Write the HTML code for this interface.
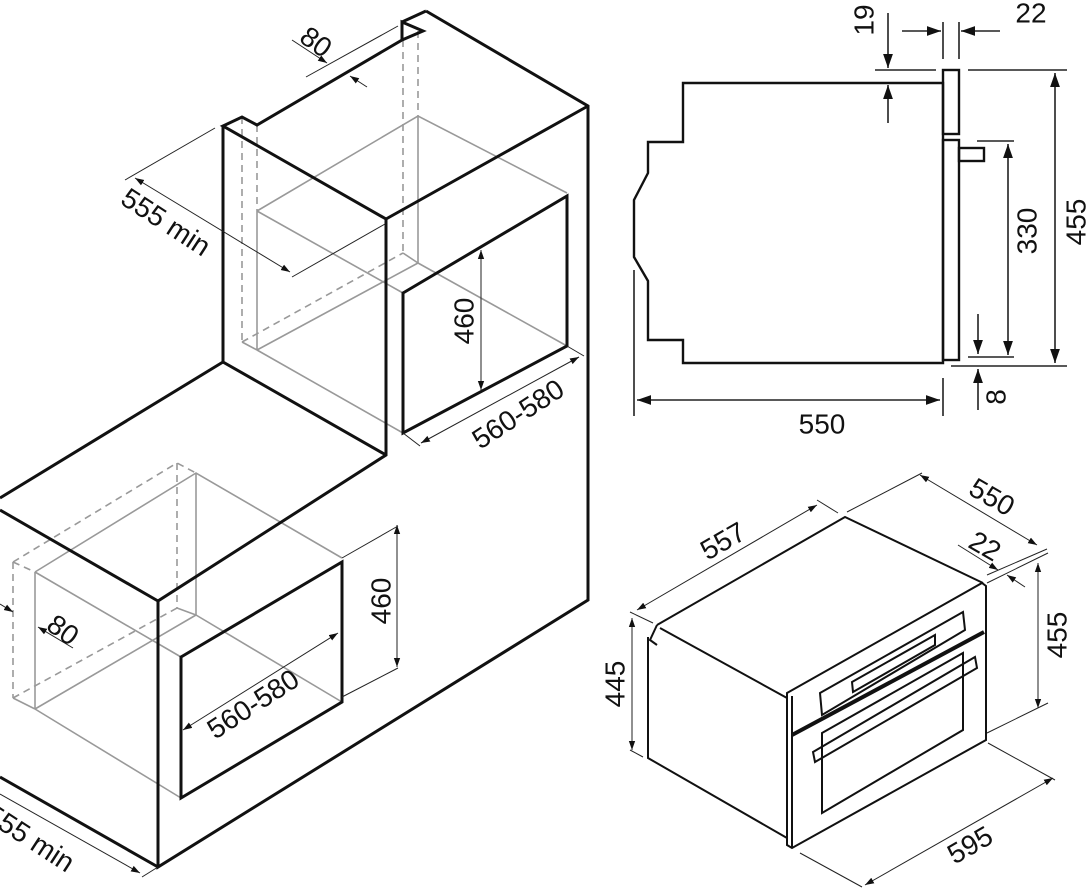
<!DOCTYPE html>
<html><head><meta charset="utf-8"><style>
html,body{margin:0;padding:0;background:#fff;}
svg{display:block;}
text{font-family:"Liberation Sans",Arial,sans-serif;font-size:28px;fill:#111;text-anchor:middle;dominant-baseline:central;}
.k{stroke:#111;stroke-width:3;fill:none;stroke-linejoin:miter;}
.m{stroke:#222;stroke-width:1.6;fill:none;}
.t{stroke:#222;stroke-width:1;fill:none;}
.g{stroke:#999;stroke-width:1.6;fill:none;}
.d{stroke:#999;stroke-width:1.6;fill:none;stroke-dasharray:7,5;}
</style></head><body>
<svg width="1089" height="893" viewBox="0 0 1089 893" xmlns="http://www.w3.org/2000/svg">
<defs>
<marker id="a" viewBox="0 0 10 10" refX="10" refY="5" markerWidth="9" markerHeight="9" orient="auto-start-reverse" markerUnits="userSpaceOnUse"><path d="M0,1.5 L10,5 L0,8.5 z" fill="#111"/></marker>
<marker id="b" viewBox="0 0 10 10" refX="10" refY="5" markerWidth="14" markerHeight="14" orient="auto-start-reverse" markerUnits="userSpaceOnUse"><path d="M0,1.5 L10,5 L0,8.5 z" fill="#111"/></marker>
</defs>

<g class="d">
<line x1="242" y1="117" x2="242" y2="342"/>
<line x1="257" y1="125" x2="257" y2="211"/>
<line x1="403" y1="40" x2="403" y2="253"/>
<line x1="418" y1="31" x2="418" y2="116"/>
<line x1="242" y1="342" x2="403" y2="253"/>
</g>
<g class="g">
<polyline points="257,211 418,116 567,193"/>
<line x1="257" y1="211" x2="257" y2="350"/>
<line x1="418" y1="116" x2="418" y2="263"/>
<line x1="257" y1="211" x2="403" y2="293"/>
<line x1="257" y1="350" x2="418" y2="263"/>
<line x1="418" y1="263" x2="567" y2="346"/>
<line x1="257" y1="350" x2="403" y2="433"/>
<line x1="242" y1="342" x2="257" y2="350"/>
<line x1="403" y1="253" x2="418" y2="263"/>
</g>
<g class="d">
<polyline points="13,562 177,463 196,473"/>
<line x1="177" y1="463" x2="177" y2="608"/>
<line x1="13" y1="562" x2="13" y2="698"/>
<line x1="13" y1="698" x2="177" y2="608"/>
<line x1="13" y1="562" x2="35" y2="572"/>
</g>
<g class="g">
<polyline points="35,572 196,473 342,558"/>
<line x1="35" y1="572" x2="35" y2="709"/>
<line x1="196" y1="473" x2="196" y2="615"/>
<line x1="35" y1="572" x2="181" y2="657"/>
<line x1="196" y1="615" x2="342" y2="702"/>
<line x1="35" y1="709" x2="181" y2="798"/>
<line x1="35" y1="709" x2="196" y2="615"/>
<line x1="13" y1="698" x2="35" y2="709"/>
<line x1="177" y1="608" x2="196" y2="615"/>
</g>

<g class="k">
<polyline points="426,11 588,106 588,600 158,867 158,601 386,455 386,219 223,126 242,117 257,125 402,40 402,22 423,31 402,40"/>
<line x1="426" y1="11" x2="402" y2="22"/>
<line x1="386" y1="219" x2="588" y2="106"/>
<polyline points="223,126 223,362 386,455"/>
<line x1="223" y1="362" x2="0" y2="498"/>
<line x1="0" y1="510" x2="158" y2="601"/>
<line x1="0" y1="777" x2="158" y2="867"/>
<polygon points="403,293 567,196 567,346 403,433"/>
<polygon points="181,657 342,562 342,702 181,798"/>
</g>

<g class="t">
<line x1="306" y1="77" x2="398" y2="26"/>
<line x1="292" y1="40" x2="327" y2="63" marker-end="url(#a)"/>
<line x1="367" y1="87" x2="350" y2="76" marker-end="url(#a)"/>
<line x1="125" y1="180" x2="215" y2="128"/>
<line x1="135" y1="178" x2="290" y2="272" marker-start="url(#a)" marker-end="url(#a)"/>
<line x1="292" y1="277" x2="385" y2="224"/>
<line x1="481" y1="250" x2="481" y2="390" marker-start="url(#a)" marker-end="url(#a)"/>
<line x1="567" y1="346" x2="584" y2="356"/>
<line x1="403" y1="433" x2="420" y2="446"/>
<line x1="421" y1="443" x2="579" y2="357" marker-start="url(#a)" marker-end="url(#a)"/>
</g>
<text transform="translate(316,42) rotate(36)">80</text>
<text transform="translate(166,222) rotate(33)">555 min</text>
<text transform="translate(464,321) rotate(-90)">460</text>
<text transform="translate(518,414) rotate(-33)">560-580</text>

<g class="t">
<line x1="0" y1="604" x2="13" y2="612" marker-end="url(#a)"/>
<line x1="73" y1="648" x2="38" y2="627" marker-end="url(#a)"/>
<line x1="397" y1="525" x2="397" y2="667" marker-start="url(#a)" marker-end="url(#a)"/>
<line x1="342" y1="558" x2="398" y2="526"/>
<line x1="342" y1="697" x2="398" y2="668"/>
<line x1="183" y1="730" x2="338" y2="633" marker-start="url(#a)" marker-end="url(#a)"/>
<line x1="0" y1="794" x2="140" y2="873" marker-end="url(#a)"/>
<line x1="142" y1="877" x2="158" y2="867"/>
</g>
<text transform="translate(63,630) rotate(36)">80</text>
<text transform="translate(381,601) rotate(-90)">460</text>
<text transform="translate(253,704) rotate(-33)">560-580</text>
<text transform="translate(30,838) rotate(33)">555 min</text>

<g class="k" style="stroke-width:2.4">
<polygon points="683,83 943,83 943,363 683,363 683,340 648,340 648,281 634,257 634,200 648,173 648,142 683,142"/>
<rect x="943" y="70" width="16" height="64"/>
<rect x="943" y="140" width="16" height="220"/>
<rect x="959" y="148" width="25" height="13"/>
</g>
<g class="m">
<line x1="888" y1="13" x2="888" y2="68" marker-end="url(#b)"/>
<line x1="875" y1="70" x2="936" y2="70"/>
<line x1="888" y1="123" x2="888" y2="85" marker-end="url(#b)"/>
<line x1="943" y1="22" x2="943" y2="59"/>
<line x1="959" y1="22" x2="959" y2="59"/>
<line x1="902" y1="31" x2="941" y2="31" marker-end="url(#b)"/>
<line x1="1000" y1="31" x2="961" y2="31" marker-end="url(#b)"/>
<line x1="968" y1="70" x2="1067" y2="70"/>
<line x1="951" y1="366" x2="1067" y2="366"/>
<line x1="1055" y1="73" x2="1055" y2="363" marker-start="url(#b)" marker-end="url(#b)"/>
<line x1="977" y1="141" x2="1014" y2="141"/>
<line x1="968" y1="357" x2="1014" y2="357"/>
<line x1="1008" y1="144" x2="1008" y2="355" marker-start="url(#b)" marker-end="url(#b)"/>
<line x1="978" y1="314" x2="978" y2="354" marker-end="url(#b)"/>
<line x1="978" y1="410" x2="978" y2="369" marker-end="url(#b)"/>
<line x1="634" y1="270" x2="634" y2="416"/>
<line x1="943" y1="378" x2="943" y2="416"/>
<line x1="637" y1="400" x2="940" y2="400" marker-start="url(#b)" marker-end="url(#b)"/>
</g>
<text transform="translate(864,20) rotate(-90)">19</text>
<text x="1031" y="13">22</text>
<text transform="translate(1076,222) rotate(-90)">455</text>
<text transform="translate(1027,231) rotate(-90)">330</text>
<text transform="translate(996,397) rotate(-90)">8</text>
<text x="822" y="424">550</text>

<g class="k" style="stroke-width:2">
<polyline points="657,625 845,517 983,583"/>
<polyline points="657,625 650,640 657,645"/>
<polyline points="648,637 648,758 787,838"/>
<line x1="660" y1="628" x2="787" y2="698"/>
<polygon points="787,693 982,583 986,586 986,740 792,848 787,845"/>
<line x1="792" y1="696" x2="792" y2="848"/>
<polygon points="820,693 963,612 965,630 822,715"/>
<polygon points="852,682 935,635 935,645 853,692"/>
<polygon points="813,752 975,657 977,668 815,762"/>
<polygon points="822,733 963,653 963,730 822,813"/>
</g>
<line x1="792" y1="735" x2="984" y2="632" stroke="#111" stroke-width="4"/>
<g class="t">
<line x1="630" y1="612" x2="653" y2="623"/>
<line x1="817" y1="500" x2="838" y2="513"/>
<line x1="637" y1="610" x2="817" y2="505" marker-start="url(#a)" marker-end="url(#a)"/>
<line x1="847" y1="512" x2="922" y2="473"/>
<line x1="920" y1="475" x2="1037" y2="545" marker-start="url(#a)" marker-end="url(#a)"/>
<line x1="958" y1="545" x2="998" y2="570" marker-end="url(#a)"/>
<line x1="987" y1="575" x2="1047" y2="549"/>
<line x1="1025" y1="587" x2="1007" y2="575" marker-end="url(#a)"/>
<line x1="987" y1="583" x2="1048" y2="553"/>
<line x1="1038" y1="563" x2="1038" y2="708" marker-start="url(#a)" marker-end="url(#a)"/>
<line x1="987" y1="733" x2="1048" y2="703"/>
<line x1="632" y1="618" x2="632" y2="750" marker-start="url(#a)" marker-end="url(#a)"/>
<line x1="630" y1="750" x2="643" y2="757"/>
<line x1="800" y1="853" x2="862" y2="887"/>
<line x1="988" y1="743" x2="1055" y2="780"/>
<line x1="865" y1="885" x2="1053" y2="778" marker-start="url(#a)" marker-end="url(#a)"/>
</g>
<text transform="translate(723,541) rotate(-30)">557</text>
<text transform="translate(992,497) rotate(30)">550</text>
<text transform="translate(985,546) rotate(30)">22</text>
<text transform="translate(1057,635) rotate(-90)">455</text>
<text transform="translate(615,684) rotate(-90)">445</text>
<text transform="translate(970,845) rotate(-30)">595</text>
</svg>
</body></html>
